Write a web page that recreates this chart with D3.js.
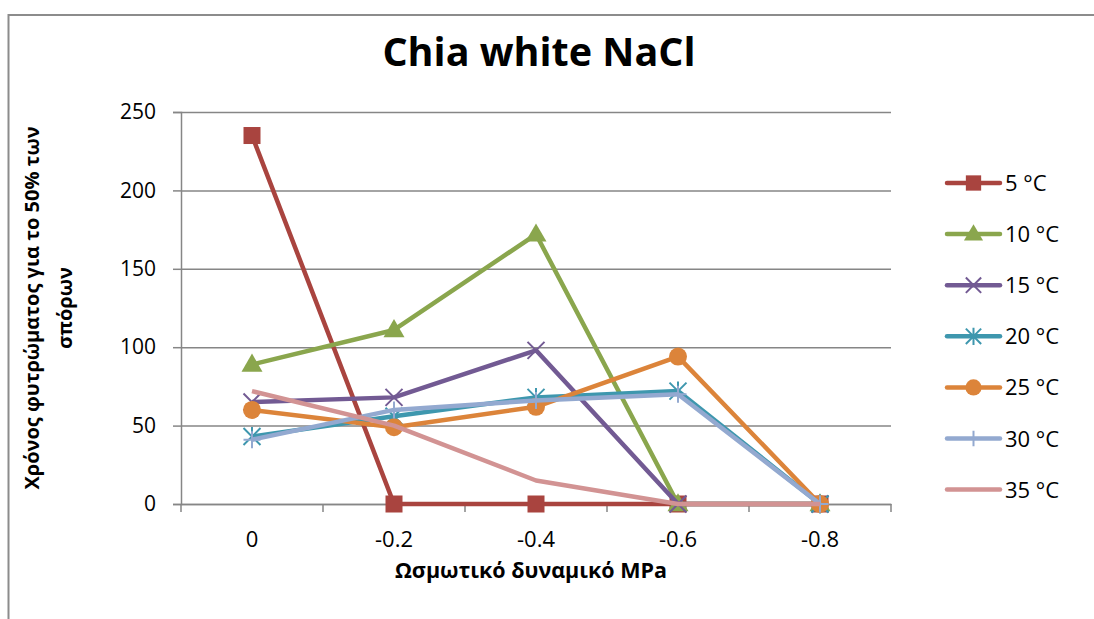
<!DOCTYPE html>
<html><head><meta charset="utf-8">
<script src="https://cdn.jsdelivr.net/npm/d3@7"></script>
<style>
html,body{margin:0;padding:0;background:#fff;}
svg{display:block;font-family:"Open Sans","Noto Sans",sans-serif;}
</style></head>
<body>
<svg id="chart" width="1094" height="619"></svg>
<script>
const categories = ["0","-0.2","-0.4","-0.6","-0.8"];
const seriesNames = ["5 °C","10 °C","15 °C","20 °C","25 °C","30 °C","35 °C"];
const s5  = [235,0,0,0,0];
const s10 = [89,111,172,0,0];
const s15 = [65,68,98,0,0];
const s20 = [43,56,68,72,0];
const s25 = [60,49,62,94,0];
const s30 = [41,60,66,70,0];
const s35 = [72,50,15,0,0];
const yTicks = [0,50,100,150,200,250];
const titleText = "Chia white NaCl";
const xTitle = "Ωσμωτικό δυναμικό MPa";
const yTitleLines = ["Χρόνος φυτρώματος για το 50% των","σπόρων"];

const colors = ["#A9443F","#8AA64D","#725A93","#3E97AE","#DC843A","#93A9D0","#D29393"];
const markers = ["square","triangle","x","star","circle","plus","none"];
const seriesData = [s5,s10,s15,s20,s25,s30,s35];

const svg = d3.select("#chart");
const W = 1094, H = 619;
const plot = {left:181, right:891, top:112, bottom:504};

// outer frame
svg.append("path").attr("d",`M8.5,${H+2} L8.5,15 L${W+2},15`)
  .attr("fill","none").attr("stroke","#8c8c8c").attr("stroke-width",2);

const x = d3.scaleBand().domain(categories).range([plot.left, plot.right]);
const y = d3.scaleLinear().domain([0,250]).range([plot.bottom, plot.top]);
const cx = c => x(c) + x.bandwidth()/2;

// gridlines
svg.append("g").attr("transform",`translate(${plot.left},0)`)
  .call(d3.axisLeft(y).tickValues(yTicks).tickSize(-(plot.right-plot.left)).tickFormat(""))
  .call(g=>g.select(".domain").remove())
  .call(g=>g.selectAll("line").attr("stroke","#868686").attr("stroke-width",1.5));

// y axis
svg.append("g").attr("transform",`translate(${plot.left},0)`)
  .call(d3.axisLeft(y).tickValues(yTicks).tickSize(8).tickPadding(17))
  .call(g=>g.select(".domain").attr("stroke","#868686").attr("stroke-width",1.5))
  .call(g=>g.selectAll("line").attr("stroke","#868686").attr("stroke-width",1.5))
  .call(g=>g.selectAll("text").attr("font-size",21).attr("fill","#000").attr("font-family","'Open Sans'"));

// x axis line + ticks at band boundaries
const xg = svg.append("g").attr("transform",`translate(0,${plot.bottom})`);
xg.call(d3.axisBottom(x).tickSize(0).tickPadding(27))
  .call(g=>g.select(".domain").attr("stroke","#868686").attr("stroke-width",1.5))
  .call(g=>g.selectAll("text").attr("font-size",22).attr("fill","#000").attr("font-family","'Open Sans'"));
const bounds = categories.map(c=>x(c)).concat([x(categories[categories.length-1])+x.bandwidth()]);
xg.selectAll("line.tk").data(bounds).join("line").attr("class","tk")
  .attr("x1",d=>d).attr("x2",d=>d).attr("y1",0).attr("y2",8)
  .attr("stroke","#868686").attr("stroke-width",1.5);

// title
svg.append("text").attr("x",539).attr("y",66).attr("text-anchor","middle")
  .attr("font-size",39.5).attr("font-weight","bold").attr("fill","#000").text(titleText);

// axis titles
svg.append("text").attr("x",531).attr("y",578).attr("text-anchor","middle")
  .attr("font-size",21.5).attr("font-weight","bold").attr("fill","#000").text(xTitle);
const yt = svg.append("text").attr("transform","translate(0,308) rotate(-90)")
  .attr("text-anchor","middle").attr("font-size",20).attr("font-weight","bold").attr("fill","#000");
yt.append("tspan").attr("x",0).attr("y",39).text(yTitleLines[0]);
yt.append("tspan").attr("x",0).attr("y",72).text(yTitleLines[1]);

function drawMarker(g, type, color, px, py, s){
  if(type==="square"){
    g.append("rect").attr("x",px-s/2).attr("y",py-s/2).attr("width",s).attr("height",s).attr("fill",color);
  } else if(type==="triangle"){
    const h=s*0.95;
    g.append("path").attr("d",`M${px},${py-h*0.6} L${px+s/2+1},${py+h*0.4} L${px-s/2-1},${py+h*0.4} Z`).attr("fill",color);
  } else if(type==="circle"){
    g.append("circle").attr("cx",px).attr("cy",py).attr("r",s/2).attr("fill",color);
  } else if(type==="x"){
    const r=s/2;
    g.append("path").attr("d",`M${px-r},${py-r}L${px+r},${py+r}M${px-r},${py+r}L${px+r},${py-r}`)
      .attr("stroke",color).attr("stroke-width",2).attr("fill","none");
  } else if(type==="star"){
    const r=s/2;
    g.append("path").attr("d",`M${px-r},${py-r}L${px+r},${py+r}M${px-r},${py+r}L${px+r},${py-r}M${px},${py-r-1}L${px},${py+r+1}`)
      .attr("stroke",color).attr("stroke-width",2).attr("fill","none");
  } else if(type==="plus"){
    const r=s/2;
    g.append("path").attr("d",`M${px-r},${py}L${px+r},${py}M${px},${py-r}L${px},${py+r}`)
      .attr("stroke",color).attr("stroke-width",2).attr("fill","none");
  }
}
const markerSize = {square:17,triangle:19,circle:18,x:17,star:17,plus:17,none:0};

const line = d3.line().x((d,i)=>cx(categories[i])).y(d=>y(d));
seriesData.forEach((vals,si)=>{
  const g = svg.append("g");
  g.append("path").datum(vals).attr("d",line).attr("fill","none")
    .attr("stroke",colors[si]).attr("stroke-width",4.5).attr("stroke-linejoin","round");
  vals.forEach((v,i)=>drawMarker(g, markers[si], colors[si], cx(categories[i]), y(v), markerSize[markers[si]]));
});

// legend
const lg = svg.append("g");
seriesNames.forEach((n,i)=>{
  const ly = 183 + i*51.1;
  lg.append("line").attr("x1",947).attr("x2",1000).attr("y1",ly).attr("y2",ly)
    .attr("stroke",colors[i]).attr("stroke-width",4.5).attr("stroke-linecap","round");
  drawMarker(lg, markers[i], colors[i], 973.5, ly, markerSize[markers[i]]*0.9);
  lg.append("text").attr("x",1005).attr("y",ly+8).attr("font-size",22).attr("fill","#000").text(n);
});
</script>
</body></html>
